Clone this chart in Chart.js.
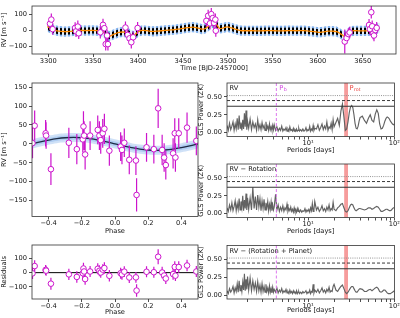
<!DOCTYPE html>
<html>
<head>
<meta charset="utf-8">
<script src="https://cdn.jsdelivr.net/npm/chart.js@4.4.1/dist/chart.umd.min.js"></script>
<style>
  html, body { margin: 0; padding: 0; background: #fff; }
  #wrap { position: relative; width: 400px; height: 318px; }
  #wrap canvas { position: absolute; left: 0; top: 0; }
</style>
</head>
<body>
<div id="wrap">
  <canvas id="cTime" width="400" height="318"></canvas>
  <canvas id="cPhase" width="400" height="318"></canvas>
  <canvas id="cResid" width="400" height="318"></canvas>
  <canvas id="cGls1" width="400" height="318"></canvas>
  <canvas id="cGls2" width="400" height="318"></canvas>
  <canvas id="cGls3" width="400" height="318"></canvas>
</div>
<script>
// ---- time series (top panel) ----
const rvTime = [3302, 3303.5, 3305, 3330, 3331, 3333, 3334, 3358, 3361, 3362.5, 3364, 3365.5, 3366.5,
  3386, 3388.5, 3390.5, 3392.5, 3394.5, 3399.5, 3476, 3478, 3480, 3481.5, 3483, 3484.5, 3486, 3486.5,
  3630, 3632, 3634, 3635.5, 3657, 3658, 3659.5, 3660.5, 3661.5, 3662.5, 3664, 3665.5];
const rvValue = [40, 66, 6, 14, -8, 22, -20, -14, 33, 12, -88, -34, -88,
  16, -30, -52, -76, -45, 13, 58, 90, 42, 100, 75, 45, 66, -4,
  -72, -50, -25, -15, 32, 6, 112, 24, -22, -34, 0, 14];
const rvError = [38, 38, 35, 35, 35, 38, 36, 38, 38, 36, 40, 38, 40,
  38, 38, 40, 40, 38, 38, 38, 38, 38, 38, 38, 38, 38, 38,
  75, 38, 36, 36, 38, 36, 40, 36, 36, 36, 36, 36];

// GP + planet model (orange = GP mean)
const gpTime = [3299, 3303, 3307, 3312, 3318, 3324, 3330, 3336, 3342, 3348, 3354, 3359, 3363, 3366, 3368,
  3371, 3375, 3379, 3383, 3387, 3390, 3393, 3395, 3398, 3401, 3405, 3410, 3416, 3422, 3428, 3434, 3440,
  3447, 3455, 3461, 3466, 3471, 3475, 3479, 3482, 3485, 3488, 3491, 3495, 3499, 3504, 3509, 3514, 3520,
  3528, 3536, 3544, 3552, 3560, 3568, 3576, 3584, 3590, 3596, 3601, 3606, 3611, 3616, 3621, 3625, 3628,
  3630, 3632, 3634, 3637, 3642, 3648, 3654, 3659, 3663, 3666, 3669];
const gpValue = [22, 10, 0, -7, -9, -8, -4, -2, -3, -2, -3, -6, -20, -34, -38,
  -32, -22, -14, -12, -14, -22, -34, -38, -20, -8, -2, -4, -8, -6, -3, 0, 2,
  8, 15, 18, 14, 6, 10, 28, 45, 44, 30, 10, 14, 20, 14, 4, -3, -4,
  -4, -5, -3, -4, -5, -3, -4, -3, -6, -10, -14, -11, -7, -7, -10, -22, -34,
  -40, -30, -16, -6, -4, -5, -5, -3, 3, 9, 14];
const planetSwing = 20;   // half height of the planet oscillation
const modelSigma = 32;    // half height of the model uncertainty

const timeTicks = [3300, 3350, 3400, 3450, 3500, 3550, 3600, 3650];
const rvTopTicks = [-100, 0, 100];

// ---- phase folded ----
const phase = [-0.497, -0.484, -0.418, -0.415, -0.386, -0.278, -0.230, -0.194, -0.190, -0.186, -0.180, -0.150,
  -0.104, -0.094, -0.086, -0.074, -0.064, -0.034, 0.034, 0.042, 0.056, 0.086, 0.126, 0.130,
  0.190, 0.234, 0.260, 0.284, 0.296, 0.306, 0.350, 0.360, 0.364, 0.384, 0.434, 0.490];
const phaseRV = [2, 48, 28, 22, -67, 3, -14, 12, 46, 22, -28, 22,
  37, 22, 10, 28, 40, -18, -7, -16, 3, -42, -44, -135,
  -9, -14, 94, -16, -36, -56, -25, 28, -36, 28, 43, 8];
const phaseErr = [40, 40, 35, 35, 42, 40, 40, 35, 40, 38, 40, 38,
  38, 38, 36, 38, 40, 40, 38, 38, 38, 38, 38, 44,
  38, 38, 52, 40, 38, 38, 40, 40, 38, 40, 40, 38];
const residual = [-5, 46, 19, 14, -77, -12, -30, -4, 29, 8, -45, 8,
  27, 13, 1, 21, 32, -22, -4, -12, 7, -34, -33, -125,
  6, 3, 111, 1, -20, -41, -10, 40, -21, 39, 50, 8];

const modelPhase = [-0.5, -0.45, -0.4, -0.35, -0.3, -0.25, -0.2, -0.15, -0.1, -0.05, 0,
  0.05, 0.1, 0.15, 0.2, 0.25, 0.3, 0.35, 0.4, 0.45, 0.5];
const modelRV = [0, 5.3, 10, 13.8, 16.2, 17, 16.2, 13.8, 10, 5.3, 0,
  -5.3, -10, -13.8, -16.2, -17, -16.2, -13.8, -10, -5.3, 0];
const modelInner = 6, modelOuter = 12;

const phaseTicks = [-0.4, -0.2, 0, 0.2, 0.4];
const rvPhaseTicks = [-150, -100, -50, 0, 50, 100, 150];
const residTicks = [-100, 0, 100];

// ---- GLS periodograms ----
const periods = [
  1.15, 1.19, 1.23, 1.27, 1.31, 1.35, 1.39, 1.43, 1.47, 1.51, 1.55, 1.59, 1.63, 1.67, 1.71, 1.75, 1.79, 1.83, 1.87, 1.91, 1.95, 1.99,
  2.05, 2.13, 2.21, 2.29, 2.37, 2.45, 2.53, 2.61, 2.69, 2.77, 2.85, 2.93, 3.01, 3.09, 3.17, 3.25, 3.33, 3.41, 3.49, 3.57, 3.65, 3.73, 3.81, 3.89, 3.97,
  4.05, 4.2, 4.35, 4.5, 4.65, 4.8, 4.95, 5.1, 5.25, 5.4, 5.55, 5.7, 5.85, 6.0, 6.15, 6.3, 6.45, 6.6, 6.75, 6.9, 7.05, 7.2, 7.35, 7.5, 7.65, 7.8, 7.95,
  8.2, 8.45, 8.7, 8.95, 9.2, 9.45, 9.7, 9.95, 10.2, 10.45, 10.7, 10.95, 11.2, 11.45, 11.7, 11.95,
  12.5, 13, 13.5, 14, 14.5, 15, 15.5, 16, 16.5, 17, 17.5, 18, 18.5, 19, 19.5,
  20, 21, 22, 23, 24, 25, 26, 27, 28, 29, 30, 31, 32, 33, 34, 35, 36, 37, 38, 39,
  40, 42.5, 45, 47.5, 50, 52.5, 55, 57.5, 60, 62.5, 65, 67.5, 70, 72.5, 75, 77.5, 80, 82.5, 85, 87.5, 90, 92.5, 95, 97.5, 100];
const powerRV = [
  0.10, 0.03, 0.13, 0.04, 0.09, 0.15, 0.03, 0.12, 0.05, 0.20, 0.04, 0.24, 0.06, 0.14, 0.03, 0.18, 0.05, 0.27, 0.08, 0.31, 0.04, 0.16,
  0.06, 0.19, 0.04, 0.15, 0.07, 0.12, 0.03, 0.18, 0.05, 0.11, 0.04, 0.14, 0.06, 0.10, 0.03, 0.15, 0.05, 0.09, 0.03, 0.12, 0.04, 0.08, 0.03, 0.10, 0.04,
  0.11, 0.03, 0.08, 0.02, 0.06, 0.03, 0.09, 0.02, 0.05, 0.03, 0.07, 0.02, 0.05, 0.02, 0.08, 0.03, 0.04, 0.02, 0.06, 0.02, 0.04, 0.02, 0.05, 0.02, 0.03, 0.06, 0.02,
  0.04, 0.02, 0.05, 0.02, 0.03, 0.07, 0.02, 0.04, 0.03, 0.09, 0.02, 0.05, 0.03, 0.10, 0.03, 0.06,
  0.05, 0.11, 0.03, 0.07, 0.12, 0.04, 0.09, 0.05, 0.15, 0.03, 0.08, 0.06, 0.13, 0.04, 0.18,
  0.08, 0.14, 0.20, 0.10, 0.30, 0.40, 0.22, 0.03, 0.05, 0.15, 0.28, 0.36, 0.38, 0.35, 0.25, 0.13, 0.06, 0.05, 0.09, 0.16,
  0.21, 0.23, 0.17, 0.13, 0.20, 0.25, 0.17, 0.15, 0.26, 0.32, 0.27, 0.12, 0.05, 0.06, 0.10, 0.16, 0.20, 0.22, 0.21, 0.19, 0.16, 0.14, 0.12, 0.11, 0.12];
const powerRot = [
  0.08, 0.03, 0.12, 0.05, 0.15, 0.04, 0.10, 0.18, 0.04, 0.14, 0.06, 0.21, 0.05, 0.17, 0.08, 0.25, 0.04, 0.19, 0.07, 0.28, 0.05, 0.22,
  0.06, 0.22, 0.05, 0.37, 0.07, 0.24, 0.05, 0.26, 0.09, 0.21, 0.04, 0.18, 0.07, 0.20, 0.05, 0.15, 0.08, 0.17, 0.04, 0.13, 0.06, 0.16, 0.04, 0.12, 0.05,
  0.09, 0.27, 0.05, 0.12, 0.03, 0.09, 0.04, 0.11, 0.03, 0.08, 0.05, 0.13, 0.03, 0.07, 0.04, 0.09, 0.03, 0.06, 0.02, 0.08, 0.03, 0.05, 0.02, 0.07, 0.03, 0.05, 0.02,
  0.05, 0.02, 0.04, 0.03, 0.07, 0.02, 0.05, 0.03, 0.06, 0.02, 0.08, 0.04, 0.14, 0.03, 0.06, 0.17,
  0.05, 0.09, 0.03, 0.06, 0.11, 0.04, 0.07, 0.03, 0.09, 0.05, 0.12, 0.04, 0.07, 0.05, 0.16,
  0.06, 0.04, 0.08, 0.10, 0.13, 0.14, 0.08, 0.03, 0.02, 0.04, 0.08, 0.12, 0.13, 0.12, 0.08, 0.05, 0.04, 0.05, 0.06, 0.07,
  0.07, 0.06, 0.05, 0.06, 0.08, 0.08, 0.06, 0.07, 0.09, 0.10, 0.09, 0.06, 0.03, 0.03, 0.04, 0.05, 0.06, 0.06, 0.05, 0.04, 0.04, 0.05, 0.07, 0.08, 0.08];
const powerRes = [
  0.06, 0.02, 0.09, 0.04, 0.07, 0.12, 0.03, 0.10, 0.05, 0.16, 0.04, 0.20, 0.06, 0.14, 0.05, 0.18, 0.07, 0.30, 0.06, 0.22, 0.08, 0.26,
  0.07, 0.24, 0.06, 0.20, 0.08, 0.17, 0.05, 0.19, 0.06, 0.14, 0.04, 0.16, 0.05, 0.12, 0.04, 0.15, 0.05, 0.10, 0.03, 0.13, 0.04, 0.09, 0.03, 0.11, 0.04,
  0.08, 0.04, 0.10, 0.03, 0.07, 0.04, 0.09, 0.03, 0.06, 0.04, 0.08, 0.03, 0.05, 0.02, 0.07, 0.03, 0.05, 0.02, 0.06, 0.03, 0.04, 0.02, 0.06, 0.02, 0.04, 0.05, 0.02,
  0.04, 0.02, 0.05, 0.03, 0.04, 0.06, 0.02, 0.04, 0.03, 0.07, 0.02, 0.05, 0.04, 0.15, 0.03, 0.07,
  0.04, 0.08, 0.03, 0.06, 0.10, 0.04, 0.07, 0.03, 0.08, 0.05, 0.11, 0.04, 0.06, 0.05, 0.12,
  0.15, 0.07, 0.05, 0.09, 0.12, 0.14, 0.09, 0.04, 0.02, 0.04, 0.07, 0.10, 0.12, 0.12, 0.09, 0.06, 0.04, 0.04, 0.06, 0.08,
  0.09, 0.08, 0.05, 0.05, 0.07, 0.08, 0.06, 0.08, 0.10, 0.11, 0.09, 0.05, 0.04, 0.05, 0.07, 0.07, 0.05, 0.03, 0.02, 0.02, 0.02, 0.03, 0.04, 0.05, 0.06];
const fapLevels = [0.37, 0.45, 0.52];       // 10%, 1%, 0.1%
const periodPb = 4.29;
const protLow = 26.2, protHigh = 29.0;
const glsTitles = ['RV', 'RV \u2212 Rotation', 'RV \u2212 (Rotation + Planet)'];
const glsYTicks = [0, 0.25, 0.5];
const periodTicks = [2, 3, 4, 5, 6, 7, 8, 9, 10, 20, 30, 40, 50, 60, 70, 80, 90, 100];

// ---------------------------------------------------------------
const W = 400, H = 318;
const FONT = 'DejaVu Sans';
Chart.defaults.font.family = FONT;
Chart.defaults.font.size = 6.7;
Chart.defaults.color = '#111';

const MAGENTA = '#cc14cc';
const minus = v => (v < 0 ? '\u2212' + Math.abs(v) : String(v));

const frame = {
  id: 'frame',
  afterDraw(chart) {
    const { ctx, chartArea: a } = chart;
    ctx.save();
    ctx.strokeStyle = '#333';
    ctx.lineWidth = 0.8;
    ctx.strokeRect(a.left, a.top, a.right - a.left, a.bottom - a.top);
    ctx.restore();
  }
};

function axis(o) {
  return {
    type: o.type || 'linear',
    min: o.min, max: o.max,
    afterBuildTicks: s => { s.ticks = o.ticks.map(v => ({ value: v })); },
    border: { display: false },
    grid: { drawOnChartArea: false, drawTicks: true, tickLength: 3, tickColor: '#222', tickWidth: 0.8 },
    ticks: { autoSkip: false, maxRotation: 0, padding: o.horiz ? 0 : 2, color: '#111', callback: o.fmt },
    title: { display: true, text: o.title, padding: 0, color: '#111' }
  };
}

function makeChart(id, area, yw, xh, datasets, xs, ys, extra, pluginOpts) {
  xs.afterFit = s => { s.height = xh; };
  ys.afterFit = s => { s.width = yw; };
  return new Chart(document.getElementById(id), {
    type: 'line',
    data: { datasets },
    options: {
      responsive: false, animation: false, devicePixelRatio: 1, events: [],
      layout: { autoPadding: false, padding: { left: area.l - yw, top: area.t, right: W - area.r, bottom: H - area.b - xh } },
      plugins: Object.assign({ legend: { display: false }, tooltip: { enabled: false } }, pluginOpts || {}),
      scales: { x: xs, y: ys }
    },
    plugins: [frame].concat(extra || [])
  });
}

const xy = (xs, ys) => xs.map((x, i) => ({ x, y: ys[i] }));
function errSegments(xs, ys, es) {
  const out = [];
  xs.forEach((x, i) => { out.push({ x, y: ys[i] - es[i] }, { x, y: ys[i] + es[i] }, { x, y: null }); });
  return out;
}
const errSet = (xs, ys, es) => ({ data: errSegments(xs, ys, es), borderColor: MAGENTA, borderWidth: 1.2, pointRadius: 0, spanGaps: false, order: 1 });
const markSet = (xs, ys) => ({ data: xy(xs, ys), showLine: false, pointRadius: 2.8, pointBorderWidth: 1, pointBackgroundColor: '#fff', pointBorderColor: MAGENTA, order: 0 });

function stripes(ctx, color, gap) {
  const c = document.createElement('canvas');
  c.width = 4; c.height = 4;
  const g = c.getContext('2d');
  if (gap) { g.fillStyle = gap; g.fillRect(0, 0, 4, 4); }
  g.fillStyle = color; g.fillRect(0, 0, 2, 4);
  return ctx.createPattern(c, 'repeat');
}

// ---- top panel ----
const tctx = document.getElementById('cTime').getContext('2d');
const shift = d => gpValue.map(v => v + d);
makeChart('cTime', { l: 32, t: 1, r: 396, b: 54 }, 32, 18, [
  { data: xy(gpTime, shift(modelSigma)), borderWidth: 0, pointRadius: 0, fill: '+1', backgroundColor: stripes(tctx, '#7fb0ee', 'rgba(170,200,240,0.35)'), order: 5 },
  { data: xy(gpTime, shift(-modelSigma)), borderWidth: 0, pointRadius: 0, order: 5 },
  { data: xy(gpTime, shift(planetSwing)), borderWidth: 0, pointRadius: 0, fill: '+1', backgroundColor: stripes(tctx, '#000', null), order: 4 },
  { data: xy(gpTime, shift(-planetSwing)), borderWidth: 0, pointRadius: 0, order: 4 },
  { data: xy(gpTime, gpValue), borderColor: '#ff8c00', borderWidth: 1.3, pointRadius: 0, tension: 0.4, order: 2 },
  errSet(rvTime, rvValue, rvError),
  markSet(rvTime, rvValue)
],
  axis({ min: 3282, max: 3687, ticks: timeTicks, fmt: v => String(v), title: 'Time [BJD-2457000]', horiz: true }),
  axis({ min: -150, max: 151, ticks: rvTopTicks, fmt: minus, title: 'RV [m s\u207B\u00B9]' }));

// ---- phase panel ----
const band = d => modelRV.map(v => v + d);
const bandColor = 'rgba(110,165,230,0.33)';
makeChart('cPhase', { l: 32, t: 83, r: 198, b: 216.5 }, 32, 19, [
  { data: xy(modelPhase, band(modelOuter)), borderWidth: 0, pointRadius: 0, tension: 0.4, fill: '+1', backgroundColor: bandColor, order: 5 },
  { data: xy(modelPhase, band(-modelOuter)), borderWidth: 0, pointRadius: 0, tension: 0.4, order: 5 },
  { data: xy(modelPhase, band(modelInner)), borderWidth: 0, pointRadius: 0, tension: 0.4, fill: '+1', backgroundColor: bandColor, order: 4 },
  { data: xy(modelPhase, band(-modelInner)), borderWidth: 0, pointRadius: 0, tension: 0.4, order: 4 },
  { data: xy(modelPhase, modelRV), borderColor: '#1d2b45', borderWidth: 1.3, pointRadius: 0, tension: 0.4, order: 3 },
  errSet(phase, phaseRV, phaseErr),
  markSet(phase, phaseRV)
],
  axis({ min: -0.5, max: 0.5, ticks: phaseTicks, fmt: v => (v < 0 ? '\u2212' : '') + Math.abs(v).toFixed(1), title: 'Phase', horiz: true }),
  axis({ min: -192, max: 161, ticks: rvPhaseTicks, fmt: minus, title: 'RV [m s\u207B\u00B9]' }));

// ---- residuals ----
makeChart('cResid', { l: 32, t: 245, r: 198, b: 299 }, 32, 17.5, [
  { data: [{ x: -0.5, y: 0 }, { x: 0.5, y: 0 }], borderColor: '#000', borderWidth: 1, pointRadius: 0, order: 3 },
  errSet(phase, residual, phaseErr),
  markSet(phase, residual)
],
  axis({ min: -0.5, max: 0.5, ticks: phaseTicks, fmt: v => (v < 0 ? '\u2212' : '') + Math.abs(v).toFixed(1), title: 'Phase', horiz: true }),
  axis({ min: -184, max: 193, ticks: residTicks, fmt: minus, title: 'Residuals' }));

// ---- GLS panels ----
const glsDeco = {
  id: 'glsDeco',
  beforeDatasetsDraw(chart) {
    const { ctx, chartArea: a, scales: { x } } = chart;
    const x0 = x.getPixelForValue(protLow), x1 = x.getPixelForValue(protHigh);
    ctx.save();
    ctx.fillStyle = 'rgba(240,90,90,0.6)';
    ctx.fillRect(x0, a.top, x1 - x0, a.bottom - a.top);
    ctx.restore();
  },
  afterDatasetsDraw(chart, args, o) {
    const { ctx, chartArea: a, scales: { x } } = chart;
    const xp = x.getPixelForValue(periodPb);
    ctx.save();
    ctx.strokeStyle = '#dd77ee';
    ctx.lineWidth = 1;
    ctx.setLineDash([3, 2]);
    ctx.beginPath(); ctx.moveTo(xp, a.top); ctx.lineTo(xp, a.bottom); ctx.stroke();
    ctx.setLineDash([]);
    ctx.textBaseline = 'top';
    ctx.font = '6.7px "' + FONT + '"';
    ctx.fillStyle = '#111';
    ctx.fillText(o.title, a.left + 2.5, a.top + 2);
    if (o.marks) {
      const sub = (big, small, px, color) => {
        ctx.fillStyle = color;
        ctx.font = '6.7px "' + FONT + '"';
        ctx.fillText(big, px, a.top + 1.5);
        const w = ctx.measureText(big).width;
        ctx.font = '4.8px "' + FONT + '"';
        ctx.fillText(small, px + w + 0.3, a.top + 4.5);
      };
      sub('P', 'b', xp + 3, '#d247e0');
      sub('P', 'rot', x.getPixelForValue(protHigh) + 1.5, '#e8433e');
    }
    ctx.restore();
  }
};

const glsAreas = [
  { l: 227, t: 83, r: 396, b: 136.5 },
  { l: 227, t: 164, r: 396, b: 217.5 },
  { l: 227, t: 245.5, r: 396, b: 299 }
];
const glsPowers = [powerRV, powerRot, powerRes];
const glsXh = [17.5, 17.5, 15.5];
const fapStyles = [{ dash: [], color: '#333', w: 1.1 }, { dash: [3, 2], color: '#222', w: 0.9 }, { dash: [1, 1.2], color: '#888', w: 0.9 }];

['cGls1', 'cGls2', 'cGls3'].forEach((id, k) => {
  const sets = [
    { data: xy(periods, glsPowers[k]), borderColor: '#626262', borderWidth: 1.15, pointRadius: 0, order: 2 }
  ];
  fapLevels.forEach((lv, j) => {
    sets.push({ data: [{ x: 1.15, y: lv }, { x: 100, y: lv }], borderColor: fapStyles[j].color, borderDash: fapStyles[j].dash, borderWidth: fapStyles[j].w, pointRadius: 0, order: 1 });
  });
  makeChart(id, glsAreas[k], 30, glsXh[k], sets,
    axis({ type: 'logarithmic', min: 1.15, max: 100, ticks: periodTicks, fmt: v => (v === 10 ? '10\u00B9' : v === 100 ? '10\u00B2' : ''), title: 'Periods [days]', horiz: true }),
    axis({ min: -0.056, max: 0.697, ticks: glsYTicks, fmt: v => v.toFixed(2), title: 'GLS Power (ZK)' }),
    [glsDeco], { glsDeco: { title: glsTitles[k], marks: k === 0 } });
});
</script>
</body>
</html>
